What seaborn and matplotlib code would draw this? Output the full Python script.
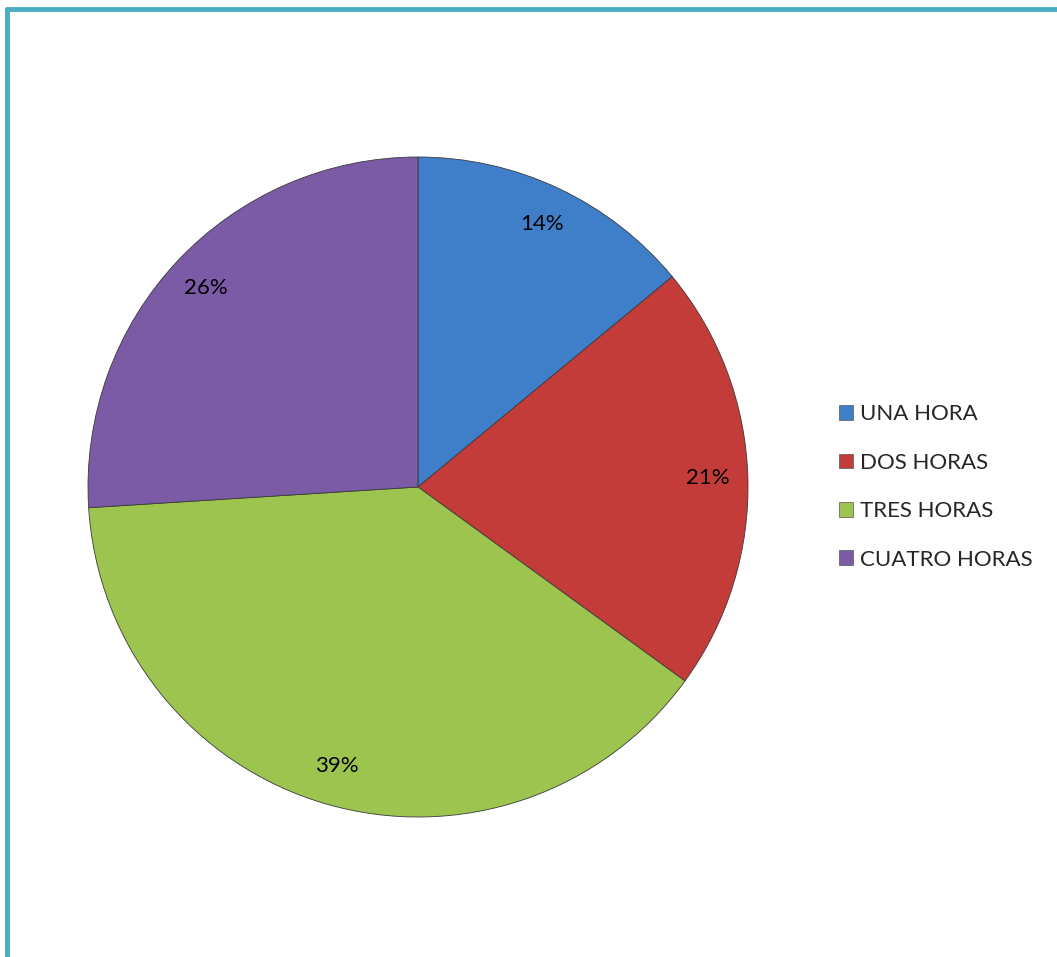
import matplotlib
matplotlib.use("Agg")
import matplotlib.pyplot as plt
import matplotlib.patches as mpatches
import seaborn as sns

sns.set_theme(style="white")
plt.rcParams['font.family'] = ['Lato', 'DejaVu Sans']

# Data
categories = ['UNA HORA', 'DOS HORAS', 'TRES HORAS', 'CUATRO HORAS']
values = [14, 21, 39, 26]
colors = ['#3F7FC9', '#C43C39', '#9DC44F', '#7B5AA6']

fig = plt.figure(figsize=(10.57, 9.57), dpi=100)
fig.patch.set_facecolor('white')

# teal frame (only top and left edges visible in reference)
fig.add_artist(plt.Line2D([7 / 1057, 7 / 1057], [0, 1 - 9 / 957],
                          color='#4BACC6', lw=3.5, transform=fig.transFigure))
fig.add_artist(plt.Line2D([7 / 1057, 1], [1 - 9 / 957, 1 - 9 / 957],
                          color='#4BACC6', lw=3.5, transform=fig.transFigure))

# Pie axes
ax = fig.add_axes([88 / 1057, 140 / 957, 660 / 1057, 660 / 957])
wedges, texts, autotexts = ax.pie(
    values, colors=colors, startangle=90, counterclock=False,
    autopct='%1.0f%%', pctdistance=0.88, radius=1,
    wedgeprops=dict(edgecolor='#3a3a3a', linewidth=0.6),
    textprops=dict(fontsize=16, color='black'))
ax.set_xlim(-1.0, 1.0)
ax.set_ylim(-1.0, 1.0)
ax.set_aspect('equal')
ax.axis('off')

handles = [mpatches.Patch(facecolor=c, edgecolor='#555555', linewidth=0.5) for c in colors]
fig.legend(handles, categories, loc='center left',
           bbox_to_anchor=(839 / 1057, (957 - 487) / 957),
           frameon=False, fontsize=16, labelspacing=1.28,
           handlelength=0.65, handleheight=0.65, handletextpad=0.3,
           borderpad=0, borderaxespad=0)

fig.savefig('out.png', dpi=100)
